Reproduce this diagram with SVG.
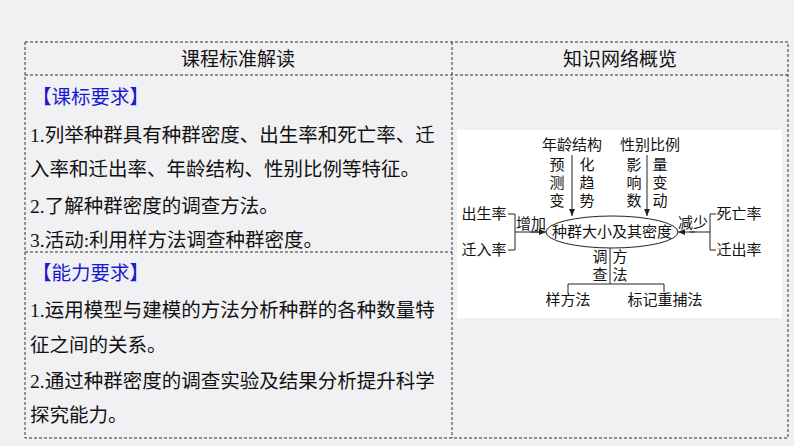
<svg xmlns="http://www.w3.org/2000/svg" width="794" height="446" viewBox="0 0 794 446">
<defs><marker id="ah" markerWidth="8" markerHeight="8" refX="7" refY="4" orient="auto" markerUnits="userSpaceOnUse"><path d="M0,1 L7,4 L0,7 Z" fill="#222"/></marker>
<style>
.d{stroke:#333;stroke-width:1;stroke-dasharray:3,2;fill:none}
.t{font-family:"Liberation Serif","Noto Sans CJK SC",serif;font-size:19.5px;fill:#111}
.h{font-family:"Noto Sans CJK SC",sans-serif;font-size:19px;fill:#111;text-anchor:middle}
.b{font-family:"Noto Sans CJK SC",sans-serif;font-size:19.5px;fill:#1a1ad0}
.m{font-family:"Liberation Serif","Noto Sans CJK SC",serif;font-size:15px;fill:#111;text-anchor:middle}
.l{stroke:#222;stroke-width:1;fill:none}
</style></defs>
<rect width="794" height="446" fill="#f1f1f3"/>
<g id="table">
<rect x="25" y="42" width="763" height="396" class="d"/>
<line x1="452" y1="42" x2="452" y2="438" class="d"/>
<line x1="25" y1="75" x2="788" y2="75" class="d"/>
<line x1="25" y1="252" x2="452" y2="252" class="d"/>
<text x="238" y="66" class="h">课程标准解读</text>
<text x="620" y="66" class="h">知识网络概览</text>
<text x="32" y="104" class="b">【课标要求】</text>
<text x="30" y="142" class="t">1.列举种群具有种群密度、出生率和死亡率、迁</text>
<text x="30" y="176" class="t">入率和迁出率、年龄结构、性别比例等特征。</text>
<text x="30" y="213" class="t">2.了解种群密度的调查方法。</text>
<text x="30" y="247" class="t">3.活动:利用样方法调查种群密度。</text>
<text x="32" y="280" class="b">【能力要求】</text>
<text x="30" y="317" class="t">1.运用模型与建模的方法分析种群的各种数量特</text>
<text x="30" y="352" class="t">征之间的关系。</text>
<text x="30" y="388" class="t">2.通过种群密度的调查实验及结果分析提升科学</text>
<text x="30" y="422" class="t">探究能力。</text>
</g>
<rect x="457" y="130" width="325" height="188" fill="#fff"/>
<g id="center"><ellipse cx="612" cy="232" rx="66" ry="16" class="l"/><text x="612" y="237" class="m">种群大小及其密度</text></g>
<g id="age"><text x="572" y="150" class="m">年龄结构</text></g>
<g id="sex"><text x="650" y="150" class="m">性别比例</text></g>
<g id="birth"><text x="484" y="219" class="m">出生率</text><text x="484" y="255" class="m">迁入率</text></g>
<g id="death"><text x="739" y="219" class="m">死亡率</text><text x="739" y="255" class="m">迁出率</text></g>
<g id="m1"><text x="568" y="305" class="m">样方法</text></g>
<g id="m2"><text x="665" y="305" class="m">标记重捕法</text></g>
<g id="connectors">
<line x1="572" y1="155" x2="572" y2="216" class="l" marker-end="url(#ah)"/>
<line x1="647" y1="155" x2="647" y2="216" class="l" marker-end="url(#ah)"/>
<path d="M508,214 H515 V250 H508 M515,232 H540" class="l"/>
<line x1="530" y1="232" x2="546" y2="232" class="l" marker-end="url(#ah)"/>
<path d="M716,214 H710 V250 H716 M710,232 H690" class="l"/>
<line x1="695" y1="232" x2="678" y2="232" class="l" marker-end="url(#ah)"/>
<path d="M610,248 V284 M568,292 V284 H664 V292" class="l"/>
<g class="m">
<text x="557" y="170">预</text><text x="557" y="188">测</text><text x="557" y="206">变</text>
<text x="587" y="170">化</text><text x="587" y="188">趋</text><text x="587" y="206">势</text>
<text x="634" y="170">影</text><text x="634" y="188">响</text><text x="634" y="206">数</text>
<text x="660" y="170">量</text><text x="660" y="188">变</text><text x="660" y="206">动</text>
<text x="531" y="229">增加</text><text x="693" y="228">减少</text>
<text x="600" y="262">调</text><text x="600" y="280">查</text>
<text x="620" y="262">方</text><text x="620" y="280">法</text>
</g>
</g>
</svg>
